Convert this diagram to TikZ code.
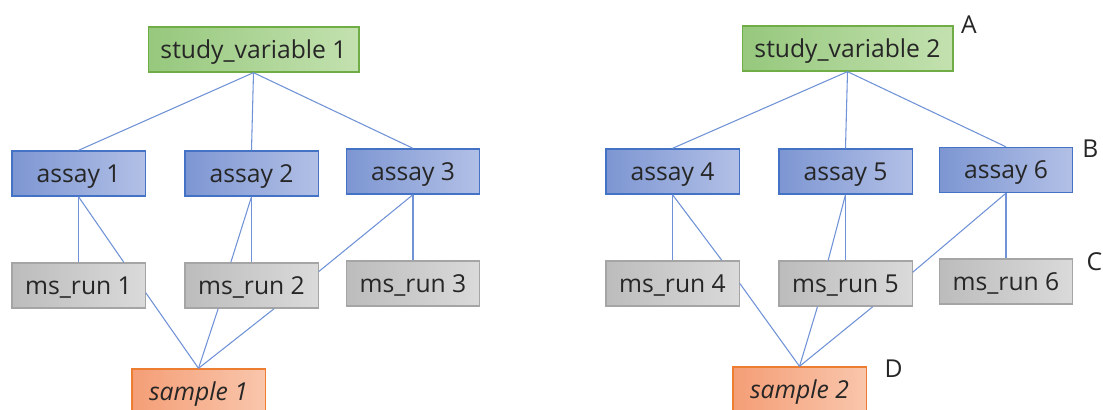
\documentclass[tikz,border=0pt]{standalone}
\usepackage{fontspec}
\setmainfont{Open Sans}
\usepackage{xcolor}
\usepackage{tikz}
\usetikzlibrary{positioning}
\usetikzlibrary{calc}

\definecolor{svBorder}{RGB}{112,173,71}
\definecolor{svDark}{RGB}{150,200,125}
\definecolor{svLight}{RGB}{195,225,175}
\definecolor{asBorder}{RGB}{68,114,196}
\definecolor{asDark}{RGB}{125,150,210}
\definecolor{asLight}{RGB}{178,192,230}
\definecolor{msBorder}{RGB}{165,165,165}
\definecolor{msDark}{RGB}{188,188,188}
\definecolor{msLight}{RGB}{218,218,218}
\definecolor{smBorder}{RGB}{237,125,49}
\definecolor{smDark}{RGB}{244,158,118}
\definecolor{smLight}{RGB}{249,198,172}
\definecolor{linkBlue}{RGB}{112,146,214}
\definecolor{textDark}{RGB}{38,38,38}

\tikzset{
	box/.style={rectangle, line width=1pt, inner sep=0pt, minimum height=33.75pt,
		text height=15.3pt, text depth=2.5pt,
		text=textDark, font=\fontsize{18.5}{22}\selectfont},
	studybox/.style={box, draw=svBorder, left color=svDark, right color=svLight, minimum width=158pt},
	assaybox/.style={box, draw=asBorder, left color=asDark, right color=asLight, minimum width=100pt},
	runbox/.style={box, draw=msBorder, left color=msDark, right color=msLight, minimum width=100pt},
	samplebox/.style={box, draw=smBorder, left color=smDark, right color=smLight, minimum width=100pt,
		font=\fontsize{18.5}{22}\selectfont\itshape},
	link/.style={draw=linkBlue, line width=0.8pt},
	tag/.style={text=textDark, font=\fontsize{18.5}{22}\selectfont, inner sep=0pt}
}

\begin{document}
\begin{tikzpicture}[x=0.75pt,y=-0.75pt]
	
	\useasboundingbox (0,0) rectangle (1103,410);
	
	% first group
	\node[studybox] (SV1) at (253.5,49.5) {study\_variable 1};
	
	\node[assaybox] (A1) at (78.5,173.5) {assay 1};
	\node[assaybox] (A2) at (251.5,173.5) {assay 2};
	\node[assaybox] (A3) at (413,171.5) {assay 3};
	
	\node[runbox] (R1) at (78.5,285.5) {ms\_run 1};
	\node[runbox] (R2) at (251.5,285.5) {ms\_run 2};
	\node[runbox] (R3) at (413,283.5) {ms\_run 3};
	
	\node[samplebox] (S1) at (198.5,391.5) {sample 1};
	
	% second group
	\node[studybox] (SV2) at (847.5,48.5) {study\_variable 2};
	
	\node[assaybox] (A4) at (672.5,171.5) {assay 4};
	\node[assaybox] (A5) at (845.5,171.5) {assay 5};
	\node[assaybox] (A6) at (1006,170) {assay 6};
	
	\node[runbox] (R4) at (672.5,283.5) {ms\_run 4};
	\node[runbox] (R5) at (845.5,283.5) {ms\_run 5};
	\node[runbox] (R6) at (1006,281.5) {ms\_run 6};
	
	\node[samplebox] (S2) at (799.5,389.5) {sample 2};
	
	% letters beside the second group
	% (shifts in pt point up, not down)
	\node[tag] (ALabel) at ($(SV2.north east)+(11.6pt,0.7pt)$) {A};
	\node[tag] (BLabel) at ($(A6.east)+(12.75pt,16pt)$) {B};
	\node[tag] (CLabel) at ($(R6.east)+(15.75pt,14.6pt)$) {C};
	\node[tag] (DLabel) at ($(S2.north east)+(20pt,-1.9pt)$) {D};
	
	%%%%%%%%%%%%%%%%%%%%%%%%%%%%%%%%%%%%%%%%%%%%%%%%%%%%%%%%%%%%%%
	% links of the first group
	\draw[link] (SV1.south) -- (A1.north);
	\draw[link] (SV1.south) -- (A2.north);
	\draw[link] (SV1.south) -- (A3.north);
	
	\draw[link] (A1.south) -- (R1.north);
	\draw[link] (A1.south) -- ([xshift=34pt]R1.north);
	\draw[link] (A2.south) -- (R2.north);
	\draw[link] (A2.south) -- ([xshift=-15.5pt]R2.north);
	\draw[link] (A3.south) -- (R3.north);
	\draw[link] (A3.south) -- ([yshift=10.5pt]R2.east);
	
	\draw[link] ([yshift=-5.5pt]R1.east) -- (S1.north);
	\draw[link] ([xshift=-25pt]R2.south) -- (S1.north);
	\draw[link] ([xshift=17pt]R2.south) -- (S1.north);
	
	% links of the second group
	\draw[link] (SV2.south) -- (A4.north);
	\draw[link] (SV2.south) -- (A5.north);
	\draw[link] (SV2.south) -- (A6.north);
	
	\draw[link] (A4.south) -- (R4.north);
	\draw[link] (A4.south) -- ([xshift=37pt]R4.north);
	\draw[link] (A5.south) -- (R5.north);
	\draw[link] (A5.south) -- ([xshift=-13pt]R5.north);
	\draw[link] (A6.south) -- (R6.north);
	\draw[link] (A6.south) -- ([yshift=8.5pt]R5.east);
	
	\draw[link] (R4.east) -- (S2.north);
	\draw[link] ([xshift=-21pt]R5.south) -- (S2.north);
	\draw[link] ([xshift=20.5pt]R5.south) -- (S2.north);
	
\end{tikzpicture}
\end{document}
